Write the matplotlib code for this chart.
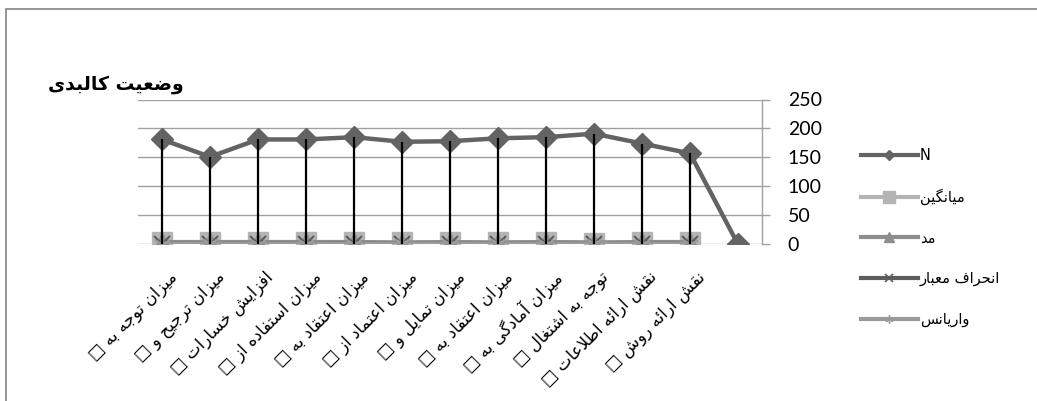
import numpy as np
import matplotlib
matplotlib.use("Agg")
import matplotlib.pyplot as plt
from matplotlib.lines import Line2D
from matplotlib.patches import Rectangle
from matplotlib import transforms

# ---------------- data ----------------
categories = [
    "میزان توجه به □",
    "میزان ترجیح و □",
    "افزایش خسارات □",
    "میزان استفاده از □",
    "میزان اعتقاد به □",
    "میزان اعتماد از □",
    "میزان تمایل و □",
    "میزان اعتقاد به □",
    "میزان آمادگی به □",
    "توجه به اشتغال □",
    "نقش ارائه اطلاعات □",
    "نقش ارائه روش □",
    "",
]
n_values = [181, 151, 181, 181, 185, 177, 178, 183, 185, 191, 174, 157, 0]
mean_values = [3.6, 3.4, 3.9, 3.7, 3.8, 3.2, 3.5, 3.3, 3.9, 3.1, 3.4, 3.6, np.nan]
mode_values = [4, 4, 4, 4, 4, 3, 4, 3, 4, 3, 4, 4, np.nan]
std_values = [1.1, 1.2, 1.0, 1.1, 0.9, 1.2, 1.1, 1.2, 1.0, 1.3, 1.1, 1.0, np.nan]
var_values = [1.2, 1.4, 1.0, 1.2, 0.8, 1.4, 1.2, 1.4, 1.0, 1.7, 1.2, 1.0, np.nan]
series_names = ["N", "میانگین", "مد", "انحراف معبار", "واریانس"]
title_text = "وضعیت کالبدی"
y_ticks = [0, 50, 100, 150, 200, 250]

# ---------------- minimal Arabic/Persian shaping ----------------
FORMS = {
    '\u0627': ('\uFE8D', '\uFE8E', None, None),
    '\u0622': ('\uFE81', '\uFE82', None, None),
    '\u0628': ('\uFE8F', '\uFE90', '\uFE91', '\uFE92'),
    '\u062A': ('\uFE95', '\uFE96', '\uFE97', '\uFE98'),
    '\u062B': ('\uFE99', '\uFE9A', '\uFE9B', '\uFE9C'),
    '\u062C': ('\uFE9D', '\uFE9E', '\uFE9F', '\uFEA0'),
    '\u062D': ('\uFEA1', '\uFEA2', '\uFEA3', '\uFEA4'),
    '\u062E': ('\uFEA5', '\uFEA6', '\uFEA7', '\uFEA8'),
    '\u062F': ('\uFEA9', '\uFEAA', None, None),
    '\u0630': ('\uFEAB', '\uFEAC', None, None),
    '\u0631': ('\uFEAD', '\uFEAE', None, None),
    '\u0632': ('\uFEAF', '\uFEB0', None, None),
    '\u0633': ('\uFEB1', '\uFEB2', '\uFEB3', '\uFEB4'),
    '\u0634': ('\uFEB5', '\uFEB6', '\uFEB7', '\uFEB8'),
    '\u0635': ('\uFEB9', '\uFEBA', '\uFEBB', '\uFEBC'),
    '\u0636': ('\uFEBD', '\uFEBE', '\uFEBF', '\uFEC0'),
    '\u0637': ('\uFEC1', '\uFEC2', '\uFEC3', '\uFEC4'),
    '\u0638': ('\uFEC5', '\uFEC6', '\uFEC7', '\uFEC8'),
    '\u0639': ('\uFEC9', '\uFECA', '\uFECB', '\uFECC'),
    '\u063A': ('\uFECD', '\uFECE', '\uFECF', '\uFED0'),
    '\u0641': ('\uFED1', '\uFED2', '\uFED3', '\uFED4'),
    '\u0642': ('\uFED5', '\uFED6', '\uFED7', '\uFED8'),
    '\u0643': ('\uFED9', '\uFEDA', '\uFEDB', '\uFEDC'),
    '\u0644': ('\uFEDD', '\uFEDE', '\uFEDF', '\uFEE0'),
    '\u0645': ('\uFEE1', '\uFEE2', '\uFEE3', '\uFEE4'),
    '\u0646': ('\uFEE5', '\uFEE6', '\uFEE7', '\uFEE8'),
    '\u0647': ('\uFEE9', '\uFEEA', '\uFEEB', '\uFEEC'),
    '\u0648': ('\uFEED', '\uFEEE', None, None),
    '\u064A': ('\uFEF1', '\uFEF2', '\uFEF3', '\uFEF4'),
    '\u0626': ('\uFE89', '\uFE8A', '\uFE8B', '\uFE8C'),
    '\u06CC': ('\uFBFC', '\uFBFD', '\uFBFE', '\uFBFF'),
    '\u06A9': ('\uFB8E', '\uFB8F', '\uFB90', '\uFB91'),
    '\u06AF': ('\uFB92', '\uFB93', '\uFB94', '\uFB95'),
    '\u067E': ('\uFB56', '\uFB57', '\uFB58', '\uFB59'),
    '\u0686': ('\uFB7A', '\uFB7B', '\uFB7C', '\uFB7D'),
    '\u0698': ('\uFB8A', '\uFB8B', None, None),
}


def _dual(c):
    return c in FORMS and FORMS[c][2] is not None


def fa(s):
    chars = list(s)
    n = len(chars)
    res = []
    i = 0
    while i < n:
        c = chars[i]
        if c not in FORMS:
            res.append(c)
            i += 1
            continue
        prev = chars[i - 1] if i > 0 else None
        cp = prev is not None and _dual(prev)
        if c == '\u0644' and i + 1 < n and chars[i + 1] in ('\u0627', '\u0622'):
            lig = ('\uFEFB', '\uFEFC') if chars[i + 1] == '\u0627' else ('\uFEF5', '\uFEF6')
            res.append(lig[1] if cp else lig[0])
            i += 2
            continue
        nxt = chars[i + 1] if i + 1 < n else None
        cn = _dual(c) and nxt is not None and nxt in FORMS
        iso, fin, ini, med = FORMS[c]
        if cp and cn:
            res.append(med)
        elif cp:
            res.append(fin)
        elif cn:
            res.append(ini)
        else:
            res.append(iso)
        i += 1
    return ''.join(reversed(res))


# ---------------- figure ----------------
plt.rcParams['font.family'] = ['DejaVu Sans']
fig = plt.figure(figsize=(10.37, 4.01), dpi=100)
W, H = 1037, 401

# outer chart border (only top and left visible)
fig.add_artist(Rectangle((5.5 / W, -0.1), 1.2, 1 - 8.5 / H + 0.1, transform=fig.transFigure,
                         fill=False, edgecolor='#8c8c8c', linewidth=1.3))

ax = fig.add_axes([138 / W, 1 - 244.3 / H, 624 / W, (244.3 - 99.5) / H])
x = np.arange(len(categories))

ax.set_xlim(-0.5, len(categories) - 0.5)
ax.set_ylim(0, 250)
ax.set_yticks(y_ticks)
ax.yaxis.tick_right()
ax.tick_params(axis='y', length=5.5, width=1.0, color='#a0a0a0', pad=13,
               labelsize=14)
for lab in ax.get_yticklabels():
    lab.set_family('Lato')
ax.grid(axis='y', color='#a0a0a0', linewidth=1.0)
ax.set_axisbelow(True)
for s in ['top', 'left', 'bottom']:
    ax.spines[s].set_visible(False)
ax.spines['right'].set_color('#a0a0a0')
ax.spines['right'].set_linewidth(1.0)

ax.set_xticks(x)
ax.set_xticklabels([fa(c) for c in categories], rotation=45, ha='right', va='top',
                   rotation_mode='anchor', fontsize=12)
ax.tick_params(axis='x', length=0, pad=17)
offset = transforms.ScaledTranslation(6 / 100, 0, fig.dpi_scale_trans)
for lab in ax.get_xticklabels():
    lab.set_transform(lab.get_transform() + offset)

# series
hN, = ax.plot(x, n_values, color='#636363', lw=3.2, marker='D', ms=11, zorder=3)
hMean, = ax.plot(x, mean_values, color='#b4b4b4', lw=3.0, marker='s', ms=14, zorder=3)
hMode, = ax.plot(x, mode_values, color='#8e8e8e', lw=3.0, marker='^', ms=13, zorder=3)
hStd, = ax.plot(x, std_values, color='#5c5c5c', lw=3.0, marker='x', ms=12, mew=1.5, zorder=3)
hVar, = ax.plot(x, var_values, color='#9a9a9a', lw=3.0, marker=(6, 2, 0), ms=12, mew=1.2, zorder=3)

# high-low lines
allv = np.vstack([n_values, mean_values, mode_values, std_values, var_values]).astype(float)
valid = ~np.isnan(allv).any(axis=0)
ax.vlines(x[valid], np.nanmin(allv[:, valid], axis=0), np.nanmax(allv[:, valid], axis=0),
          colors='black', linewidth=1.6, zorder=4)

# legend
handles = [
    Line2D([], [], color='#636363', lw=3, marker='D', ms=5),
    Line2D([], [], color='#b4b4b4', lw=3, marker='s', ms=8),
    Line2D([], [], color='#8e8e8e', lw=3, marker='^', ms=7),
    Line2D([], [], color='#5c5c5c', lw=3, marker='x', ms=6, mew=1.2),
    Line2D([], [], color='#9a9a9a', lw=3, marker=(6, 2, 0), ms=6, mew=1.0),
]
leg = fig.legend(handles, [fa(s) for s in series_names], loc='upper left',
                 bbox_to_anchor=(855 / W, 1 - 142 / H), frameon=False,
                 fontsize=10.5, handlelength=3.9, handletextpad=0.15,
                 labelspacing=1.75, borderaxespad=0)

fig.text(48 / W, 1 - 84 / H, fa(title_text), fontsize=13.5, fontweight='bold',
         ha='left', va='center')

fig.savefig('out.png', dpi=100)
